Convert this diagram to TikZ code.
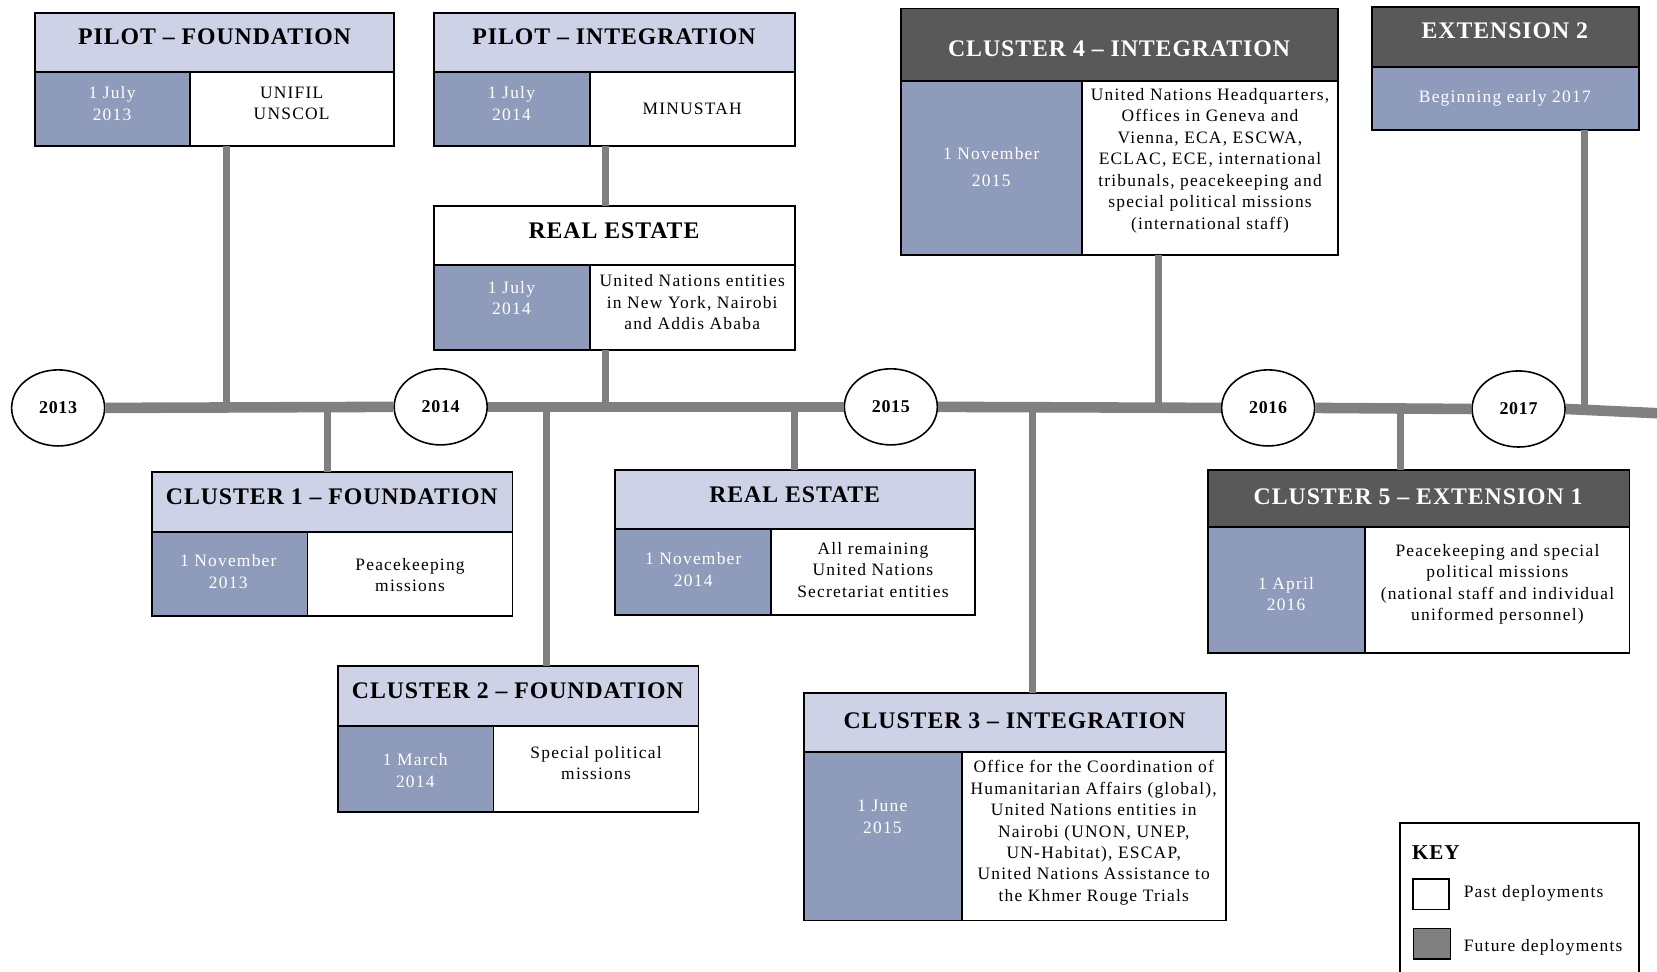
\documentclass[tikz,border=0pt]{standalone}
\usepackage{fontspec}
\setmainfont{Liberation Serif}
\newfontfamily\bodyspaced[LetterSpace=7]{Liberation Serif}
\newfontfamily\titlespaced[LetterSpace=4]{Liberation Serif}
\definecolor{hdrlight}{HTML}{CDD2E6}
\definecolor{datecol}{HTML}{8F9BBB}
\definecolor{hdrdark}{HTML}{595959}
\definecolor{linegray}{HTML}{808080}
\tikzset{
  cellbox/.style={draw=black, line width=1.8pt, inner sep=0pt, outer sep=0pt},
  hlight/.style={fill=hdrlight},
  hdark/.style={fill=hdrdark},
  hwhite/.style={fill=white},
  ttl/.style={inner sep=0pt, font=\titlespaced\bfseries\fontsize{22.5}{26}\selectfont, text=black},
  ttlw/.style={ttl, text=white},
  body/.style={inner sep=0pt, align=center, font=\bodyspaced\fontsize{16.5}{20.3}\selectfont, text=black},
  datetxt/.style={body, text=white},
  yearnode/.style={draw=black, line width=1.5pt, fill=white, ellipse, minimum width=88pt, minimum height=72pt, inner sep=0pt, font=\titlespaced\bfseries\fontsize{17}{20}\selectfont},
  timeline/.style={draw=linegray, line width=10pt},
  conn/.style={draw=linegray, line width=6.5pt},
}
\newcommand\phasebox[8]{%
  \node[cellbox, #8, minimum width={(#5-#2)*1pt}, minimum height={(#4-#3)*1pt}] (#1-h) at ({(#2+#5)/2},{(#3+#4)/2}) {};
  \node[cellbox, fill=datecol, minimum width={(#7-#2)*1pt}, minimum height={(#6-#4)*1pt}] (#1-d) at ({(#2+#7)/2},{(#4+#6)/2}) {};
  \node[cellbox, fill=white, minimum width={(#5-#7)*1pt}, minimum height={(#6-#4)*1pt}] (#1-b) at ({(#7+#5)/2},{(#4+#6)/2}) {};
}
\usetikzlibrary{shapes.geometric}
\begin{document}
\begin{tikzpicture}[x=1pt, y=-1pt]
\useasboundingbox (0,0) rectangle (1568,919);
\fill[white] (0,0) rectangle (1568,919);

% year ellipses
\node[yearnode] (y2013) at (55,386) {2013};
\node[yearnode] (y2014) at (417,385) {2014};
\node[yearnode] (y2015) at (843,385) {2015};
\node[yearnode] (y2016) at (1200,386) {2016};
\node[yearnode] (y2017) at (1437,387) {2017};
\coordinate (tend) at (1568,391);

% timeline
\draw[timeline] (y2013.east) -- (y2014.west);
\draw[timeline] (y2014.east) -- (y2015.west);
\draw[timeline] (y2015.east) -- (y2016.west);
\draw[timeline] (y2016.east) -- (y2017.west);
\draw[timeline] (y2017.east) -- (tend);

% attach points on the timeline
\coordinate (cpf) at (214,387);
\coordinate (cc1) at (310,386);
\coordinate (cre1) at (573,385);
\coordinate (cc2) at (517,385);
\coordinate (cre2) at (752,385);
\coordinate (cc3) at (977,386);
\coordinate (cc4) at (1096,386);
\coordinate (cc5) at (1325,386);
\coordinate (ce2) at (1499,388);
\coordinate (cpi) at (573,150);

% boxes
\phasebox{pf}{33}{12}{68}{373}{138}{180}{hlight}
\phasebox{pi}{411}{12}{68}{752}{138}{558}{hlight}
\phasebox{re1}{411}{195}{251}{752}{331}{558}{hwhite}
\phasebox{c4}{853}{8}{77}{1266}{241}{1024}{hdark}
\phasebox{c1}{144}{447}{503}{485}{583}{291}{hlight}
\phasebox{c2}{320}{630}{687}{661}{768}{467}{hlight}
\phasebox{re2}{582}{445}{501}{923}{582}{730}{hlight}
\phasebox{c3}{761}{656}{712}{1160}{871}{910}{hlight}
\phasebox{c5}{1143}{445}{499}{1542}{618}{1292}{hdark}
\node[cellbox, hdark, minimum width=253pt, minimum height=56pt] (e2-h) at (1424.5,35) {};
\node[cellbox, fill=datecol, minimum width=253pt, minimum height=60pt] (e2-d) at (1424.5,93) {};

% connectors
\draw[conn] (pf-b.south -| cpf) -- (cpf);
\draw[conn] (pi-b.south -| cpi) -- (re1-h.north -| cpi);
\draw[conn] (re1-b.south -| cre1) -- (cre1);
\draw[conn] (c4-b.south -| cc4) -- (cc4);
\draw[conn] (e2-d.south -| ce2) -- (ce2);
\draw[conn] (cc1) -- (c1-h.north -| cc1);
\draw[conn] (cc2) -- (c2-h.north -| cc2);
\draw[conn] (cre2) -- (re2-h.north -| cre2);
\draw[conn] (cc3) -- (c3-h.north -| cc3);
\draw[conn] (cc5) -- (c5-h.north -| cc5);

% titles
\node[ttl] (pf-t) at (203,35) {PILOT – FOUNDATION};
\node[ttl] (pi-t) at (581,35) {PILOT – INTEGRATION};
\node[ttl] (re1-t) at (581,218) {REAL ESTATE};
\node[ttlw] (c4-t) at (1059,46) {CLUSTER 4 – INTEGRATION};
\node[ttlw] (e2-t) at (1424,29) {EXTENSION 2};
\node[ttl] (c1-t) at (314,470) {CLUSTER 1 – FOUNDATION};
\node[ttl] (c2-t) at (490,654) {CLUSTER 2 – FOUNDATION};
\node[ttl] (re2-t) at (752,468) {REAL ESTATE};
\node[ttl] (c3-t) at (960,682) {CLUSTER 3 – INTEGRATION};
\node[ttlw] (c5-t) at (1342,470) {CLUSTER 5 – EXTENSION 1};

% dates
\node[datetxt] (pf-dt) at (106,98) {1 July\\2013};
\node[datetxt] (pi-dt) at (484,98) {1 July\\2014};
\node[datetxt] (re1-dt) at (484,282) {1 July\\2014};
\node[datetxt, font=\bodyspaced\fontsize{16.5}{25}\selectfont] (c4-dt) at (938,158) {1 November\\2015};
\node[datetxt] (e2-dt) at (1424,93) {Beginning early 2017};
\node[datetxt] (c1-dt) at (216,541) {1 November\\2013};
\node[datetxt] (c2-dt) at (393,729) {1 March\\2014};
\node[datetxt] (re2-dt) at (656,539) {1 November\\2014};
\node[datetxt] (c3-dt) at (835,773) {1 June\\2015};
\node[datetxt] (c5-dt) at (1217,562) {1 April\\2016};

% body texts
\node[body] (pf-bt) at (276,98) {UNIFIL\\UNSCOL};
\node[body] (pi-bt) at (655,103) {MINUSTAH};
\node[body] (re1-bt) at (655,286) {United Nations entities\\in New York, Nairobi\\and Addis Ababa};
\node[body] (c4-bt) at (1145,152) {United Nations Headquarters,\\Offices in Geneva and\\Vienna, ECA, ESCWA,\\ECLAC, ECE, international\\tribunals, peacekeeping and\\special political missions\\(international staff)};
\node[body] (c1-bt) at (388,544) {Peacekeeping\\missions};
\node[body] (c2-bt) at (564,722) {Special political\\missions};
\node[body] (re2-bt) at (826,539) {All remaining\\United Nations\\Secretariat entities};
\node[body] (c3-bt) at (1035,788) {Office for the Coordination of\\Humanitarian Affairs (global),\\United Nations entities in\\Nairobi (UNON, UNEP,\\UN-Habitat), ESCAP,\\United Nations Assistance to\\the Khmer Rouge Trials};
\node[body] (c5-bt) at (1417,553) {Peacekeeping and special\\political missions\\(national staff and individual\\uniformed personnel)};

% key
\draw[black, line width=1.8pt] (1325,925) -- (1325,779) -- (1551,779) -- (1551,925);
\node[anchor=west, inner sep=0pt, font=\titlespaced\bfseries\fontsize{20}{24}\selectfont] (key) at (1336,807) {KEY};
\node[draw=black, line width=1.5pt, fill=white, minimum width=34pt, minimum height=29pt, inner sep=0pt] (k1) at (1354,846) {};
\node[draw=black, line width=1.5pt, fill=linegray, minimum width=35pt, minimum height=29pt, inner sep=0pt] (k2) at (1355,893) {};
\node[anchor=west, body] (k1t) at (1385,845) {Past deployments};
\node[anchor=west, body] (k2t) at (1385,896) {Future deployments};
\end{tikzpicture}
\end{document}
